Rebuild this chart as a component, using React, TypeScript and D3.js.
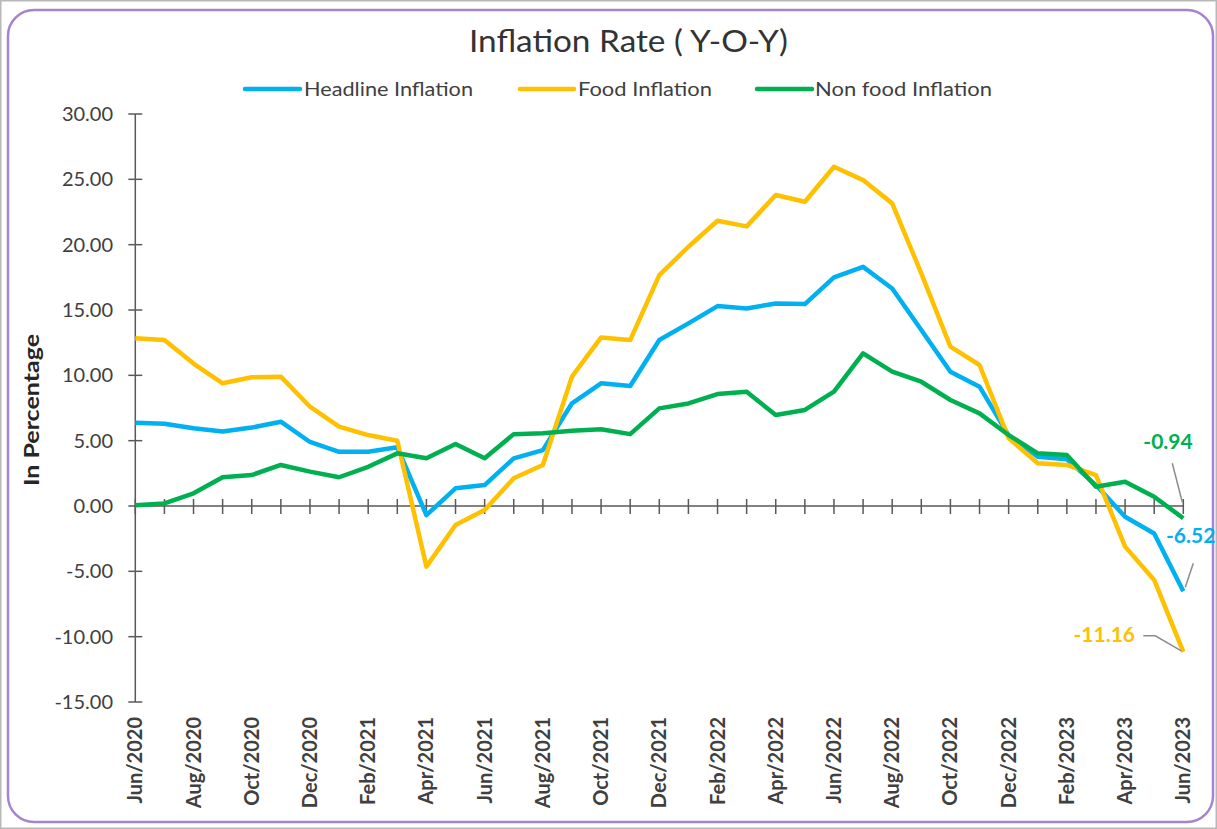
import React, { useEffect, useRef } from "react";
import * as d3 from "d3";

const months = [
  "Jun/2020","Jul/2020","Aug/2020","Sep/2020","Oct/2020","Nov/2020","Dec/2020","Jan/2021","Feb/2021","Mar/2021",
  "Apr/2021","May/2021","Jun/2021","Jul/2021","Aug/2021","Sep/2021","Oct/2021","Nov/2021","Dec/2021","Jan/2022",
  "Feb/2022","Mar/2022","Apr/2022","May/2022","Jun/2022","Jul/2022","Aug/2022","Sep/2022","Oct/2022","Nov/2022",
  "Dec/2022","Jan/2023","Feb/2023","Mar/2023","Apr/2023","May/2023","Jun/2023",
];

const headline = [
  6.37, 6.3, 5.95, 5.7, 6.0, 6.45, 4.9, 4.15, 4.15, 4.5,
  -0.7, 1.35, 1.6, 3.65, 4.28, 7.86, 9.39, 9.18, 12.7, 13.98,
  15.3, 15.12, 15.5, 15.45, 17.5, 18.3, 16.65, 13.47, 10.28, 9.13,
  5.4, 3.77, 3.57, 1.6, -0.82, -2.1, -6.52,
];

const food = [
  12.83, 12.7, 10.9, 9.39, 9.85, 9.9, 7.6, 6.07, 5.43, 5.0,
  -4.64, -1.45, -0.3, 2.12, 3.14, 9.9, 12.9, 12.7, 17.67, 19.84,
  21.83, 21.4, 23.8, 23.28, 25.96, 24.94, 23.16, 17.8, 12.19, 10.79,
  5.2, 3.27, 3.14, 2.37, -3.11, -5.66, -11.16,
];

const nonFood = [
  0.05, 0.2, 0.97, 2.2, 2.37, 3.14, 2.63, 2.2, 3.0, 4.03,
  3.65, 4.74, 3.65, 5.5, 5.56, 5.76, 5.87, 5.5, 7.47, 7.85,
  8.57, 8.75, 6.96, 7.35, 8.75, 11.68, 10.28, 9.51, 8.11, 7.09,
  5.43, 4.03, 3.9, 1.48, 1.86, 0.71, -0.94,
];

const yTicks = [30, 25, 20, 15, 10, 5, 0, -5, -10, -15];

const seriesNames = ["Headline Inflation", "Food Inflation", "Non food Inflation"];
const seriesColors = ["#00b0f0", "#ffc000", "#00b050"];
const seriesData = [headline, food, nonFood];

const W = 1217;
const H = 829;
const FONT = "Lato, 'Open Sans', sans-serif";

const fmt = (v: number) => d3.format(".2f")(v).replace("\u2212", "-");

export default function App() {
  const ref = useRef<SVGSVGElement>(null);

  useEffect(() => {
    const svg = d3.select(ref.current);
    svg.selectAll("*").remove();

    // frames
    svg.append("rect").attr("x", 0.5).attr("y", 0.5).attr("width", W - 1).attr("height", H - 1)
      .attr("fill", "#fff").attr("stroke", "#b8b8b8").attr("stroke-width", 2);
    svg.append("rect").attr("x", 8).attr("y", 10).attr("width", W - 12).attr("height", H - 17)
      .attr("rx", 26).attr("ry", 26)
      .attr("fill", "#fff").attr("stroke", "#a783cf").attr("stroke-width", 2.5);

    const x = d3.scaleLinear().domain([0, months.length - 1]).range([135.3, 1183.3]);
    const y = d3.scaleLinear().domain([-15, 30]).range([702, 114]);

    // title
    svg.append("text").attr("x", 469).attr("y", 52)
      .attr("font-family", FONT).attr("font-size", 30).attr("fill", "#333")
      .attr("textLength", 319).attr("lengthAdjust", "spacingAndGlyphs")
      .text("Inflation Rate ( Y-O-Y)");

    // legend
    const legendLine = [[245, 300], [520, 574], [757, 812]];
    const legendText = [[304, 169], [578, 134], [815, 177]];
    seriesNames.forEach((name, i) => {
      const g = svg.append("g");
      g.append("line").attr("x1", legendLine[i][0]).attr("x2", legendLine[i][1]).attr("y1", 89).attr("y2", 89)
        .attr("stroke", seriesColors[i]).attr("stroke-width", 4.5).attr("stroke-linecap", "round");
      g.append("text").attr("x", legendText[i][0]).attr("y", 96)
        .attr("font-family", FONT).attr("font-size", 19.5).attr("fill", "#404040")
        .attr("textLength", legendText[i][1]).attr("lengthAdjust", "spacingAndGlyphs")
        .text(name);
    });

    // y axis
    const axisColor = "#595959";
    svg.append("line").attr("x1", x(0)).attr("x2", x(0)).attr("y1", y(30)).attr("y2", y(-15))
      .attr("stroke", axisColor).attr("stroke-width", 1.5);
    yTicks.forEach((t) => {
      svg.append("line").attr("x1", x(0) - 7).attr("x2", x(0) + 7).attr("y1", y(t)).attr("y2", y(t))
        .attr("stroke", axisColor).attr("stroke-width", 1.5);
      svg.append("text").attr("x", 113).attr("y", y(t) + 7).attr("text-anchor", "end")
        .attr("font-family", FONT).attr("font-size", 20).attr("fill", "#404040")
        .text(fmt(t));
    });

    // y title
    svg.append("text").attr("transform", `translate(39, 410) rotate(-90)`).attr("text-anchor", "middle")
      .attr("font-family", FONT).attr("font-size", 21).attr("font-weight", "bold").attr("fill", "#262626")
      .attr("textLength", 152).attr("lengthAdjust", "spacingAndGlyphs")
      .text("In Percentage");

    // x axis at 0
    svg.append("line").attr("x1", x(0)).attr("x2", x(months.length - 1)).attr("y1", y(0)).attr("y2", y(0))
      .attr("stroke", axisColor).attr("stroke-width", 1.5);
    months.forEach((m, i) => {
      svg.append("line").attr("x1", x(i)).attr("x2", x(i)).attr("y1", y(0) - 7).attr("y2", y(0) + 8)
        .attr("stroke", axisColor).attr("stroke-width", 1.5);
      if (i % 2 === 0) {
        svg.append("text").attr("transform", `translate(${x(i) + 7}, 717) rotate(-90)`)
          .attr("text-anchor", "end")
          .attr("font-family", FONT).attr("font-size", 20).attr("font-weight", "bold").attr("fill", "#404040")
          .text(m);
      }
    });

    // lines
    const line = d3.line<number>().x((_, i) => x(i)).y((d) => y(d));
    seriesData.forEach((data, i) => {
      svg.append("path").datum(data).attr("d", line).attr("fill", "none")
        .attr("stroke", seriesColors[i]).attr("stroke-width", 4.5).attr("stroke-linejoin", "round");
    });

    // data labels with leaders
    const last = months.length - 1;
    const lx = x(last);
    const leader = "#8c8c8c";
    // non food
    svg.append("path").attr("d", `M${lx - 11},${y(nonFood[last]) - 55} L${lx - 1},${y(nonFood[last]) - 16}`)
      .attr("stroke", leader).attr("stroke-width", 1.5).attr("fill", "none");
    svg.append("text").attr("x", 1168).attr("y", 449).attr("text-anchor", "middle")
      .attr("font-family", FONT).attr("font-size", 21).attr("font-weight", "bold").attr("fill", "#00b050")
      .text(fmt(nonFood[last]));
    // headline
    svg.append("path").attr("d", `M${lx + 10},${y(headline[last]) - 28} L${lx + 2},${y(headline[last]) - 4}`)
      .attr("stroke", leader).attr("stroke-width", 1.5).attr("fill", "none");
    svg.append("text").attr("x", 1166).attr("y", 543).attr("text-anchor", "start")
      .attr("font-family", FONT).attr("font-size", 21).attr("font-weight", "bold").attr("fill", "#00b0f0")
      .text(fmt(headline[last]));
    // food
    svg.append("path").attr("d", `M${lx - 40},${y(food[last]) - 16} L${lx - 28},${y(food[last]) - 16} L${lx - 2},${y(food[last]) - 1}`)
      .attr("stroke", leader).attr("stroke-width", 1.5).attr("fill", "none");
    svg.append("text").attr("x", 1135).attr("y", 642).attr("text-anchor", "end")
      .attr("font-family", FONT).attr("font-size", 21).attr("font-weight", "bold").attr("fill", "#ffc000")
      .text(fmt(food[last]));
  }, []);

  return (
    <svg ref={ref} width={W} height={H}
      style={{ position: "absolute", left: 0, top: 0, display: "block", background: "#fff" }} />
  );
}
